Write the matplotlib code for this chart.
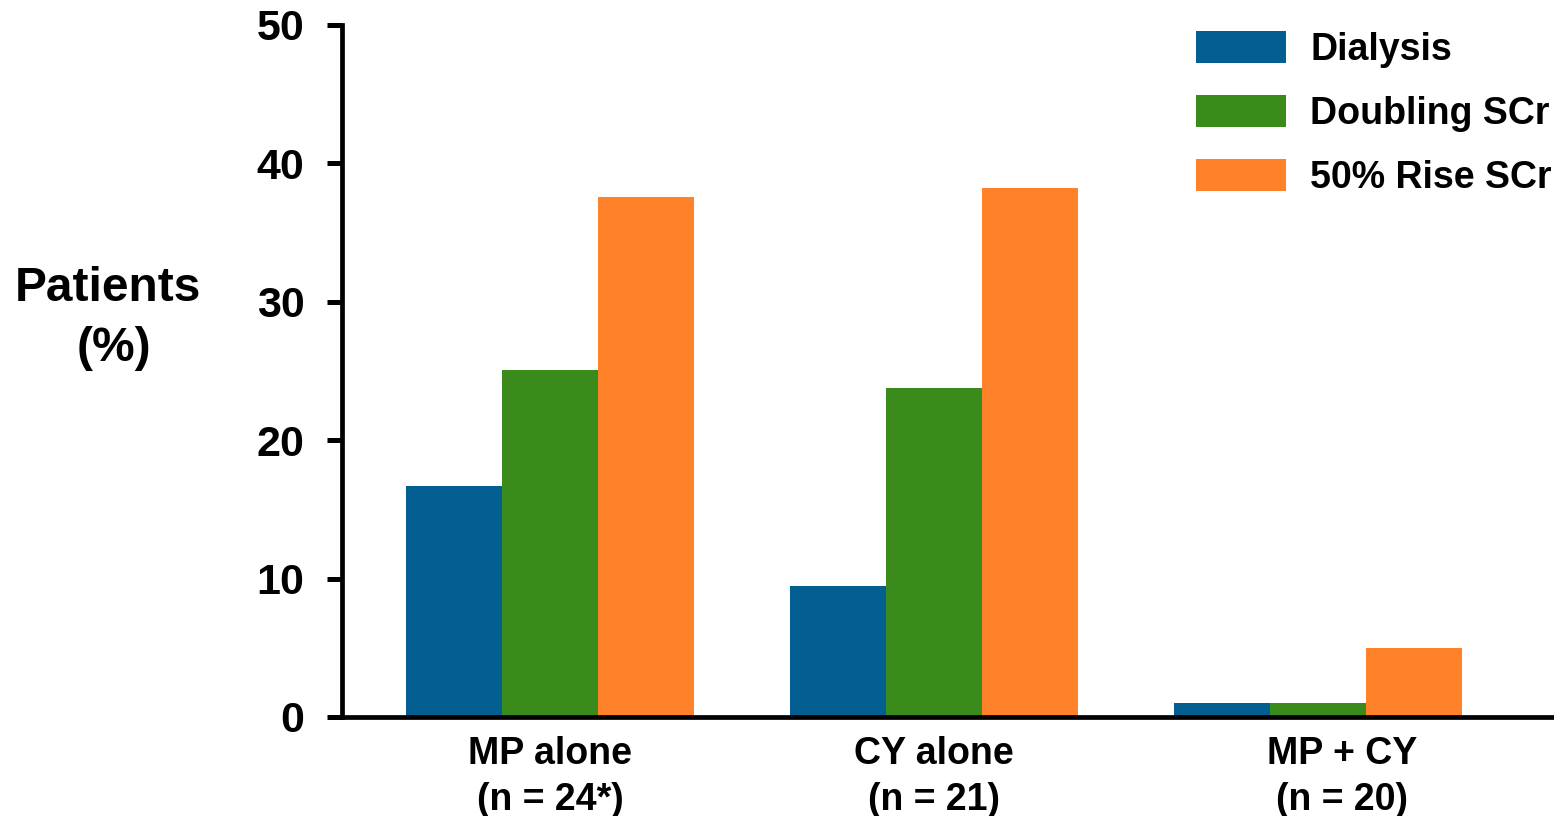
import matplotlib
matplotlib.use("Agg")
import matplotlib.pyplot as plt
import matplotlib.transforms as mtransforms
import numpy as np

plt.rcParams['font.family'] = ['Liberation Sans', 'DejaVu Sans']
plt.rcParams['font.weight'] = 'bold'

# Outcome rates (% of patients) per treatment arm
groups = ["MP alone\n(n = 24*)", "CY alone\n(n = 21)", "MP + CY\n(n = 20)"]
series_names = ["Dialysis", "Doubling SCr", "50% Rise SCr"]
dialysis = [16.7, 9.5, 1.0]
doubling_scr = [25.1, 23.8, 1.0]
rise_scr = [37.6, 38.2, 5.0]
colors = ["#035E91", "#3A8A1C", "#FF822B"]
y_ticks = [0, 10, 20, 30, 40, 50]

fig = plt.figure(figsize=(15.54, 8.16), dpi=100)
ax = fig.add_axes([342 / 1554, 1 - 717 / 816, 1 - 342 / 1554, (717 - 25) / 816])

x = np.arange(len(groups))
width = 0.25
handles = []
for i, (vals, name, col) in enumerate(zip([dialysis, doubling_scr, rise_scr], series_names, colors)):
    b = ax.bar(x + (i - 1) * width, vals, width, color=col, label=name, linewidth=0)
    handles.append(b)

ax.set_ylim(0, 50)
ax.set_xlim(-0.542, 2.615)
ax.set_yticks(y_ticks)
ax.set_yticklabels([str(t) for t in y_ticks], fontsize=31, fontweight='bold')

# category labels under each bar group; the last one sits slightly to the right
label_pad_pt = 14
for xi, name in zip(x, groups):
    shift = 0.24 if xi == x[-1] else 0.0
    tr = ax.get_xaxis_transform() + mtransforms.ScaledTranslation(
        shift, -label_pad_pt / 72, fig.dpi_scale_trans)
    ax.text(xi, 0, name, transform=tr, ha='center', va='top', fontsize=27,
            fontweight='bold', linespacing=1.33)
ax.set_xticks([])

for s in ['top', 'right']:
    ax.spines[s].set_visible(False)
for s in ['left', 'bottom']:
    ax.spines[s].set_linewidth(3.4)
ax.tick_params(axis='y', length=11, width=3.6, pad=16)

fig.text(108 / 1554, 1 - 288 / 816, "Patients", fontsize=34.5, fontweight='bold',
         ha='center', va='center')
fig.text(114 / 1554, 1 - 348 / 816, "(%)", fontsize=34.5, fontweight='bold',
         ha='center', va='center')

fig.legend(handles=handles, labels=series_names, loc='upper left',
           bbox_to_anchor=(1188 / 1554, 1 - 23 / 816), frameon=False,
           fontsize=27, handlelength=2.4, handleheight=0.95, handletextpad=0.66,
           labelspacing=0.72, borderaxespad=0, borderpad=0.2)

fig.savefig("out.png", dpi=100)
